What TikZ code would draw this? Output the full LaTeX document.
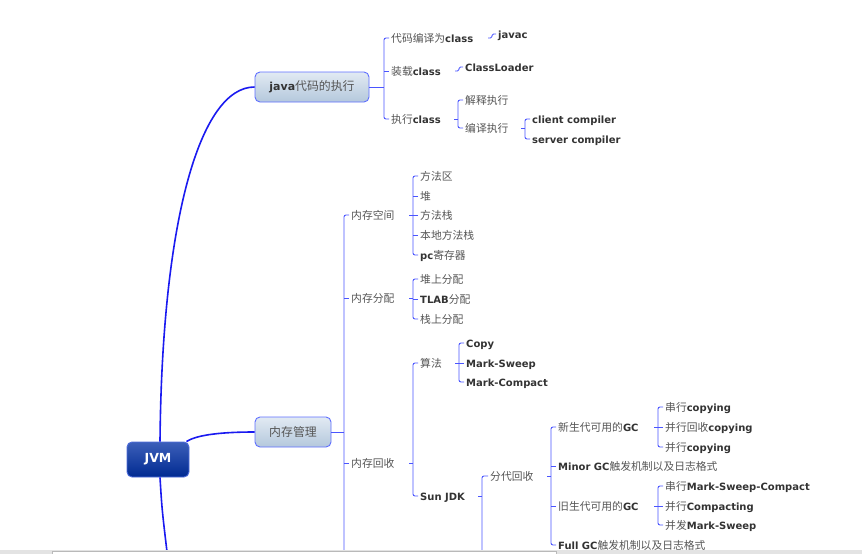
\documentclass[tikz,border=0pt]{standalone}
\usepackage{fontspec}
\setmainfont{DejaVu Sans}
\newfontfamily\zhfont[Scale=1.08]{Noto Sans CJK SC}
\usetikzlibrary{calc}
\definecolor{enc}{HTML}{333333}
\definecolor{zhc}{HTML}{555555}
\definecolor{spinec}{HTML}{4A55FF}
\definecolor{mainc}{HTML}{1A1AF0}
\definecolor{nodeborder}{HTML}{5F6FFF}
\newcommand\zhtxt[1]{{\zhfont\color{zhc}#1}}
\newcommand\entxt[1]{{\bfseries\color{enc}#1}}
\newcommand\brk[3]{% parent, first child, last child
  \draw[br] ([xshift=-2pt]#2.west) -- ++(-5,0) |- ([xshift=-2pt]#3.west);
  \path ([xshift=-7pt]#2.west) coordinate (tmpsp);
  \draw[br] (tmpsp |- #1.east) -- ++(-4,0);
}
\newcommand\tck[1]{\draw[br] ([xshift=-2pt]#1.west) -- ++(-5,0);}
\begin{document}
\begin{tikzpicture}[x=1pt,y=-1pt,
  lbl/.style={anchor=west, inner sep=0pt, text height=10pt, text depth=0.5pt, font=\fontsize{10}{12}\selectfont},
  br/.style={draw=spinec, line width=0.9pt, rounded corners=2pt},
  mainline/.style={draw=mainc, line width=1.6pt},
  subnode/.style={draw=nodeborder, line width=0.9pt, rounded corners=5pt, top color={rgb,255:red,226;green,234;blue,243}, bottom color={rgb,255:red,180;green,200;blue,220}, minimum height=30pt, font=\fontsize{11}{13}\selectfont},
  rootnode/.style={draw={rgb,255:red,80;green,110;blue,220}, line width=0.9pt, rounded corners=5pt, top color={rgb,255:red,60;green,95;blue,185}, bottom color={rgb,255:red,0;green,42;blue,145}, minimum width=62pt, minimum height=35pt, text=white, font=\fontsize{12.5}{14}\selectfont\bfseries}
]
\clip (0,0) rectangle (862,554);
\fill[white] (0,0) rectangle (862,554);

% root and main topics
\node[rootnode] (jvm) at (158,459.5) {JVM};
\node[subnode, minimum width=114pt] (java) at (312,87) {\entxt{java}\zhtxt{代码的执行}};
\node[subnode, minimum width=76pt] (mem) at (293,432) {\zhtxt{内存管理}};
\coordinate (offJ) at (168,560);

\draw[mainline] ([xshift=2pt]jvm.north) .. controls (162,220) and (200,87) .. (java.west);
\draw[mainline] ([xshift=-3pt]jvm.north east) .. controls (195,436) and (215,432) .. (mem.west);
\draw[mainline] ([xshift=2pt]jvm.south) .. controls (162,510) .. (offJ);

% java branch
\node[lbl] (c1) at (391,38) {\zhtxt{代码编译为}\entxt{class}};
\node[lbl] (c2) at (391,71) {\zhtxt{装载}\entxt{class}};
\node[lbl] (c3) at (391,119) {\zhtxt{执行}\entxt{class}};
\node[lbl] (javac) at (498,34) {\entxt{javac}};
\node[lbl] (cl) at (465,67) {\entxt{ClassLoader}};
\node[lbl] (jsz) at (465,100) {\zhtxt{解释执行}};
\node[lbl] (byz) at (465,128) {\zhtxt{编译执行}};
\node[lbl] (cc) at (532,119) {\entxt{client compiler}};
\node[lbl] (sc) at (532,139) {\entxt{server compiler}};

\draw[br] ([xshift=-2pt]c1.west) -- ++(-5,0) |- ([xshift=-2pt]c3.west);
\tck{c2}
\path ([xshift=-7pt]c1.west) coordinate (jsp);
\draw[br] (java.east) -- (jsp |- java.east);

\path ([xshift=-10pt]javac.west) coordinate (t1);
\draw[br, rounded corners=1.5pt] (t1 |- c1.east) -- ++(4,0) |- ([xshift=-2pt]javac.west);
\path ([xshift=-10pt]cl.west) coordinate (t2);
\draw[br, rounded corners=1.5pt] (t2 |- c2.east) -- ++(4,0) |- ([xshift=-2pt]cl.west);

\brk{c3}{jsz}{byz}
\brk{byz}{cc}{sc}

% memory branch
\node[lbl] (nc) at (351,215) {\zhtxt{内存空间}};
\node[lbl] (fp) at (351,298) {\zhtxt{内存分配}};
\node[lbl] (hs) at (351,463) {\zhtxt{内存回收}};
\coordinate (offMem) at (344,560);
\draw[br] ([xshift=-2pt]nc.west) -- ++(-5,0) -- (offMem);
\tck{fp}
\tck{hs}
\draw[br] (mem.east) -- (mem.east -| offMem);

\node[lbl] (a1) at (420,176) {\zhtxt{方法区}};
\node[lbl] (a2) at (420,196) {\zhtxt{堆}};
\node[lbl] (a3) at (420,215) {\zhtxt{方法栈}};
\node[lbl] (a4) at (420,235) {\zhtxt{本地方法栈}};
\node[lbl] (a5) at (420,255) {\entxt{pc}\zhtxt{寄存器}};
\brk{nc}{a1}{a5}
\tck{a2}\tck{a3}\tck{a4}

\node[lbl] (b1) at (420,279) {\zhtxt{堆上分配}};
\node[lbl] (b2) at (420,299) {\entxt{TLAB}\zhtxt{分配}};
\node[lbl] (b3) at (420,319) {\zhtxt{栈上分配}};
\brk{fp}{b1}{b3}
\tck{b2}

\node[lbl] (sf) at (420,363) {\zhtxt{算法}};
\node[lbl] (sun) at (420,496) {\entxt{Sun JDK}};
\brk{hs}{sf}{sun}

\node[lbl] (d1) at (466,343) {\entxt{Copy}};
\node[lbl] (d2) at (466,363) {\entxt{Mark-Sweep}};
\node[lbl] (d3) at (466,382) {\entxt{Mark-Compact}};
\brk{sf}{d1}{d3}
\tck{d2}

\node[lbl] (fd) at (490,476) {\zhtxt{分代回收}};
\coordinate (offSun) at (482,560);
\draw[br] ([xshift=-2pt]fd.west) -- ++(-6,0) -- (offSun);
\draw[br] (sun.east -| offSun) -- ++(-4,0);

\node[lbl] (e1) at (558,427) {\zhtxt{新生代可用的}\entxt{GC}};
\node[lbl] (e2) at (558,466) {\entxt{Minor GC}\zhtxt{触发机制以及日志格式}};
\node[lbl] (e3) at (558,506) {\zhtxt{旧生代可用的}\entxt{GC}};
\node[lbl] (e4) at (558,545) {\entxt{Full GC}\zhtxt{触发机制以及日志格式}};
\brk{fd}{e1}{e4}
\tck{e2}\tck{e3}

\node[lbl] (f1) at (665,407) {\zhtxt{串行}\entxt{copying}};
\node[lbl] (f2) at (665,427) {\zhtxt{并行回收}\entxt{copying}};
\node[lbl] (f3) at (665,447) {\zhtxt{并行}\entxt{copying}};
\brk{e1}{f1}{f3}
\tck{f2}

\node[lbl] (g1) at (665,486) {\zhtxt{串行}\entxt{Mark-Sweep-Compact}};
\node[lbl] (g2) at (665,506) {\zhtxt{并行}\entxt{Compacting}};
\node[lbl] (g3) at (665,525) {\zhtxt{并发}\entxt{Mark-Sweep}};
\brk{e3}{g1}{g3}
\tck{g2}

% bottom window strip
\fill[gray!22] (0,550) rectangle (862,554);
\fill[white] (52,551.5) rectangle (556,554);
\draw[gray!55, line width=0.8pt] (52,554) -- (52,551.5) -- (556,551.5) -- (556,554);
\end{tikzpicture}
\end{document}
